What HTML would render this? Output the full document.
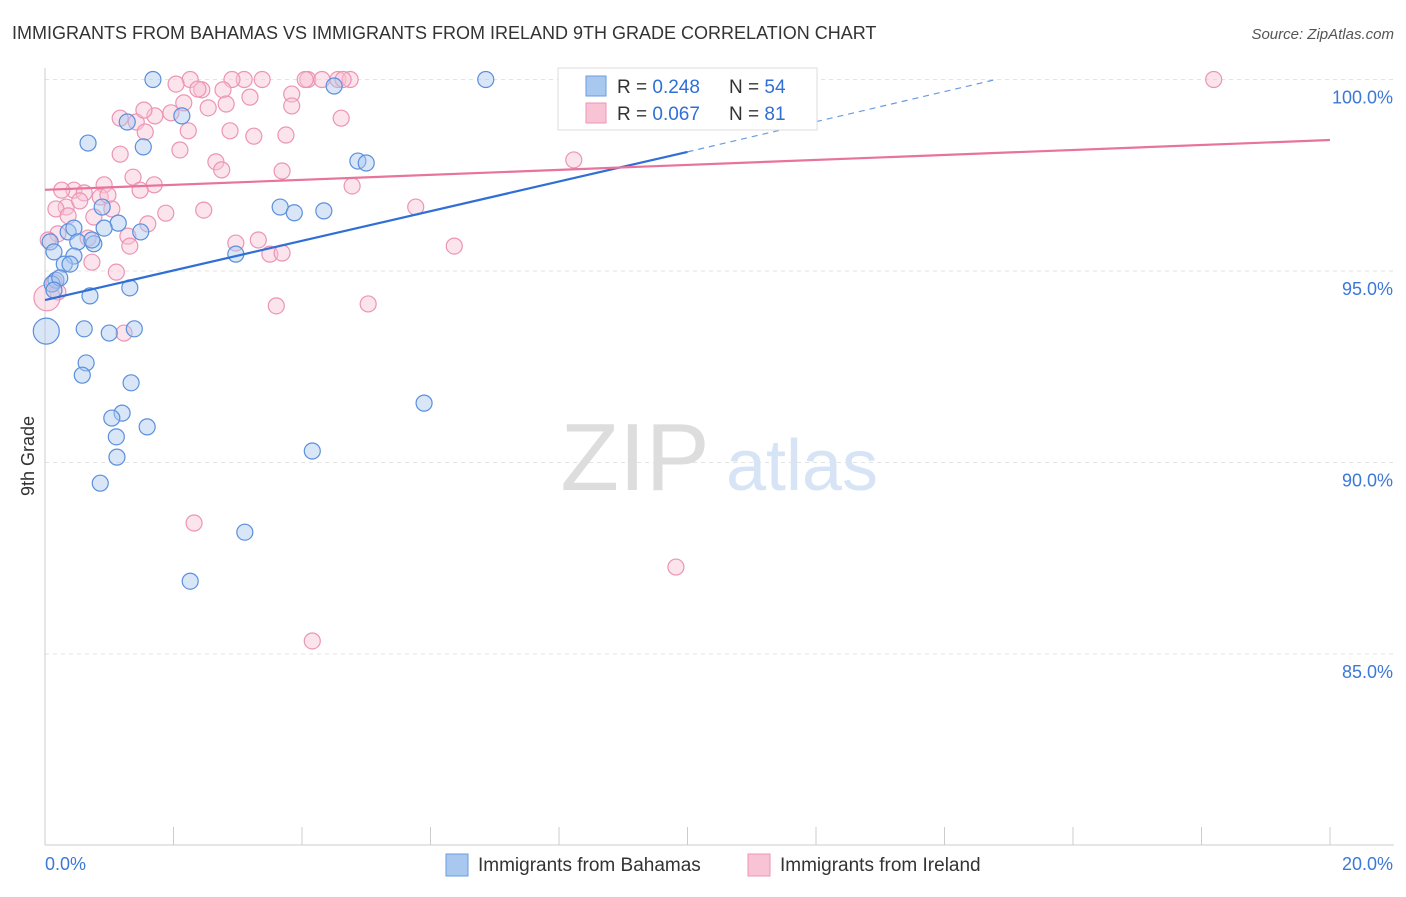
<!DOCTYPE html>
<html><head><meta charset="utf-8"><style>
body{margin:0;background:#fff;font-family:"Liberation Sans",sans-serif;}
svg text{font-family:"Liberation Sans",sans-serif;}
</style></head><body>
<svg id="chart" width="1406" height="892" viewBox="0 0 1406 892">
<text x="12" y="39" font-size="18" fill="#333">IMMIGRANTS FROM BAHAMAS VS IMMIGRANTS FROM IRELAND 9TH GRADE CORRELATION CHART</text>
<text x="1394" y="39" font-size="15" fill="#555" text-anchor="end" font-style="italic">Source: ZipAtlas.com</text>
<text x="34" y="456" font-size="18" fill="#333" text-anchor="middle" transform="rotate(-90 34 456)">9th Grade</text>
<g id="grid"></g>
<g><text x="635" y="490" font-size="96" fill="#ddd" font-family="Liberation Serif" text-anchor="middle">ZIP</text><text x="802" y="490" font-size="72" fill="#d6e4f5" text-anchor="middle">atlas</text></g>
<g id="axes"></g>
<g id="points"></g>
<g id="trends"></g>
<g>
<rect x="558" y="68" width="259" height="62" fill="#fff" stroke="#ddd"/>
<rect x="586" y="76" width="20" height="20" fill="#a9c8f0" stroke="#6a9be0"/>
<rect x="586" y="103" width="20" height="20" fill="#f8c3d5" stroke="#ec94b4"/>
<text x="617" y="93" font-size="19" fill="#333">R = <tspan fill="#2f6fd6">0.248</tspan></text>
<text x="729" y="93" font-size="19" fill="#333">N = <tspan fill="#2f6fd6">54</tspan></text>
<text x="617" y="120" font-size="19" fill="#333">R = <tspan fill="#2f6fd6">0.067</tspan></text>
<text x="729" y="120" font-size="19" fill="#333">N = <tspan fill="#2f6fd6"> 81</tspan></text>
</g>
<g>
<rect x="446" y="854" width="22" height="22" fill="#a9c8f0" stroke="#6a9be0"/>
<text x="478" y="871" font-size="19" fill="#333">Immigrants from Bahamas</text>
<rect x="748" y="854" width="22" height="22" fill="#f8c3d5" stroke="#ec94b4"/>
<text x="780" y="871" font-size="19" fill="#333">Immigrants from Ireland</text>
</g>
</svg>
<script>
const yTicks=[100,95,90,85];
const yTickLabels=["100.0%","95.0%","90.0%","85.0%"];
const xTicks=[0,2,4,6,8,10,12,14,16,18,20];
const xEndLabels=["0.0%","20.0%"];
const blueX=[1.68,6.86,4.50,2.13,1.28,1.53,0.67,4.87,5.00,3.66,3.88,4.34,0.89,1.14,0.36,0.45,1.49,0.92,0.08,0.51,0.76,0.73,0.14,0.45,0.30,0.39,2.97,0.17,0.11,0.23,1.32,0.70,0.02,0.61,1.00,1.39,0.64,0.58,1.34,1.20,1.04,1.59,1.11,1.12,5.90,4.16,0.86,3.11,2.26,0.14];
const blueY=[100,100,99.83,99.05,98.89,98.24,98.34,97.87,97.82,96.67,96.52,96.57,96.67,96.25,96.02,96.12,96.02,96.12,95.76,95.76,95.71,95.81,95.50,95.39,95.18,95.18,95.44,94.76,94.66,94.82,94.56,94.35,93.43,93.49,93.38,93.49,92.60,92.28,92.08,91.29,91.16,90.93,90.67,90.14,91.55,90.30,89.46,88.18,86.90,94.50];
const pinkX=[2.26,3.10,3.38,4.09,4.31,4.56,4.75,2.91,2.04,2.44,2.77,2.38,3.19,3.84,4.05,4.64,18.19,11.16,2.16,2.54,3.84,1.96,1.71,1.42,4.61,2.88,2.23,1.56,3.25,3.75,2.10,1.17,2.66,8.23,2.75,3.69,1.37,1.70,0.92,4.78,0.45,0.26,1.48,0.61,0.86,0.98,0.33,0.17,0.54,1.04,2.47,1.88,5.77,0.36,0.76,1.29,1.60,0.20,2.97,3.32,0.05,0.67,1.32,3.50,3.69,6.37,0.73,1.11,0.14,0.20,0.03,3.60,5.03,1.23,2.32,9.82,4.16,1.54,1.17,2.82];
const pinkY=[100,100,100,100,100,100,100,100,99.88,99.73,99.73,99.75,99.54,99.62,100,100,100,100,99.39,99.26,99.31,99.13,99.05,98.89,98.99,98.66,98.66,98.63,98.52,98.55,98.16,98.05,97.85,97.90,97.64,97.61,97.45,97.25,97.25,97.22,97.11,97.11,97.11,97.04,96.93,96.98,96.67,96.62,96.83,96.62,96.59,96.51,96.67,96.44,96.41,95.91,96.23,95.97,95.73,95.81,95.81,95.86,95.65,95.44,95.47,95.65,95.23,94.97,94.71,94.45,94.30,94.09,94.14,93.38,88.42,87.27,85.34,99.20,98.99,99.36];
const blueTrend=[0,94.24,10,98.11,14.8,100];
const pinkTrend=[0,97.12,20,98.42];
const X=v=>45+v*64.25, Y=v=>79.5+(100-v)*38.3;
const NS="http://www.w3.org/2000/svg";
function mk(tag,attrs,parent){const e=document.createElementNS(NS,tag);for(const k in attrs)e.setAttribute(k,attrs[k]);document.getElementById(parent).appendChild(e);return e;}
yTicks.forEach((t,i)=>{
 const l=mk('line',{x1:45,x2:1394,y1:Y(t),y2:Y(t),stroke:'#e3e3e3','stroke-dasharray':'4,4'},'grid');
 
 
 const tx=mk('text',{x:1393,y:Y(t)+24,'font-size':18,fill:'#3b78d8','text-anchor':'end'},'grid');tx.textContent=yTickLabels[i];
 
 
});
const ax=mk('line',{x1:45,x2:45,y1:68,y2:845,stroke:'#ccc'},'axes');


const bx=mk('line',{x1:45,x2:1394,y1:845,y2:845,stroke:'#ccc'},'axes');


xTicks.forEach(t=>{const l=mk('line',{x1:X(t),x2:X(t),y1:827,y2:845,stroke:'#ccc'},'axes');
 
 });
const x0=mk('text',{x:45,y:870,'font-size':18,fill:'#3b78d8'},'axes');x0.textContent=xEndLabels[0];


const x1=mk('text',{x:1393,y:870,'font-size':18,fill:'#3b78d8','text-anchor':'end'},'axes');x1.textContent=xEndLabels[1];


function pts(xs,ys,fill,stroke,name,bigIdx){xs.forEach((x,i)=>{
 const c=mk('circle',{cx:X(x),cy:Y(ys[i]),r:i===bigIdx?13:8,fill:fill,'fill-opacity':0.45,stroke:stroke,'stroke-width':1.2},'points');
 
 });}
pts(pinkX,pinkY,'#f8c3d5','#ec94b4','ireland-point',70);
pts(blueX,blueY,'#a9c8f0','#5b8fdc','bahamas-point',32);
const b1=mk('line',{x1:X(blueTrend[0]),y1:Y(blueTrend[1]),x2:X(blueTrend[2]),y2:Y(blueTrend[3]),stroke:'#2f6fd6','stroke-width':2.2},'trends');


const b2=mk('line',{x1:X(blueTrend[2]),y1:Y(blueTrend[3]),x2:X(blueTrend[4]),y2:Y(blueTrend[5]),stroke:'#6a9be0','stroke-width':1.2,'stroke-dasharray':'6,5'},'trends');


const p1=mk('line',{x1:X(pinkTrend[0]),y1:Y(pinkTrend[1]),x2:X(pinkTrend[2]),y2:Y(pinkTrend[3]),stroke:'#e8739b','stroke-width':2.2},'trends');


</script>
</body></html>
